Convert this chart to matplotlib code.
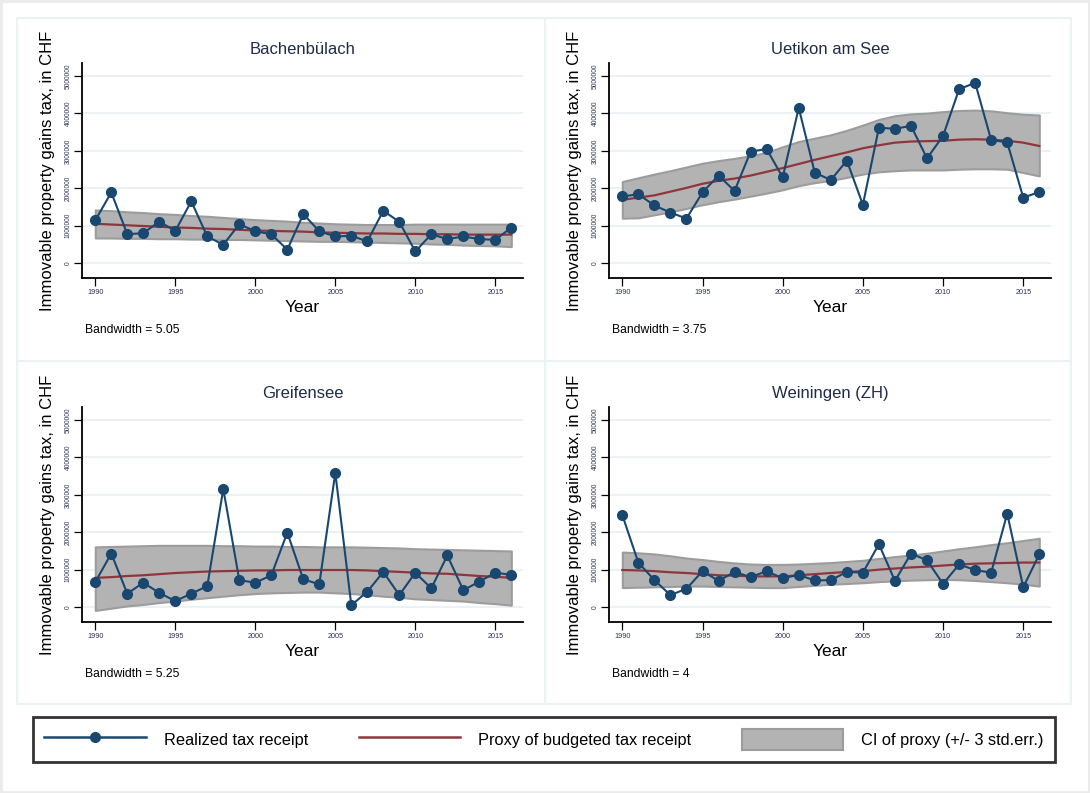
import numpy as np
import matplotlib
matplotlib.use("Agg")
import matplotlib.pyplot as plt
from matplotlib.lines import Line2D
from matplotlib.patches import Patch, Rectangle

plt.rcParams['font.family'] = ['Liberation Sans', 'DejaVu Sans']

years = list(range(1990, 2017))

# values in millions of CHF
bach_real = [1.14, 1.89, 0.77, 0.80, 1.11, 0.86, 1.65, 0.71, 0.49, 1.04, 0.85, 0.77, 0.36, 1.31,
             0.85, 0.71, 0.73, 0.58, 1.40, 1.10, 0.31, 0.77, 0.64, 0.71, 0.64, 0.62, 0.95]
bach_proxy = [1.05, 1.03, 1.01, 0.99, 0.97, 0.95, 0.94, 0.92, 0.91, 0.89, 0.87, 0.86, 0.85, 0.84,
              0.82, 0.81, 0.80, 0.79, 0.79, 0.78, 0.78, 0.77, 0.77, 0.76, 0.76, 0.76, 0.76]
bach_hi = [1.42, 1.40, 1.37, 1.35, 1.32, 1.30, 1.27, 1.25, 1.22, 1.19, 1.16, 1.14, 1.12, 1.09,
           1.07, 1.05, 1.04, 1.03, 1.03, 1.03, 1.04, 1.04, 1.04, 1.04, 1.04, 1.04, 1.04]
bach_lo = [0.67, 0.67, 0.66, 0.66, 0.65, 0.65, 0.64, 0.64, 0.63, 0.63, 0.62, 0.61, 0.60, 0.59,
           0.58, 0.58, 0.57, 0.56, 0.55, 0.54, 0.53, 0.51, 0.50, 0.48, 0.47, 0.46, 0.44]

uet_real = [1.78, 1.84, 1.54, 1.35, 1.19, 1.89, 2.34, 1.93, 2.98, 3.05, 2.29, 4.15, 2.42, 2.22,
            2.74, 1.56, 3.62, 3.59, 3.67, 2.80, 3.40, 4.65, 4.82, 3.29, 3.23, 1.75, 1.90]
uet_proxy = [1.69, 1.75, 1.81, 1.91, 2.01, 2.12, 2.20, 2.26, 2.34, 2.44, 2.54, 2.65, 2.76, 2.86,
             2.96, 3.07, 3.15, 3.22, 3.25, 3.26, 3.27, 3.30, 3.31, 3.30, 3.27, 3.22, 3.13]
uet_hi = [2.18, 2.28, 2.38, 2.47, 2.57, 2.67, 2.74, 2.80, 2.87, 2.96, 3.11, 3.25, 3.34, 3.43,
          3.55, 3.69, 3.84, 3.94, 3.99, 4.01, 4.05, 4.08, 4.09, 4.07, 4.02, 3.98, 3.96]
uet_lo = [1.20, 1.21, 1.29, 1.37, 1.46, 1.56, 1.64, 1.71, 1.79, 1.87, 1.96, 2.07, 2.15, 2.21,
          2.29, 2.38, 2.44, 2.47, 2.49, 2.49, 2.49, 2.51, 2.52, 2.52, 2.51, 2.42, 2.33]

gre_real = [0.67, 1.43, 0.36, 0.65, 0.38, 0.16, 0.36, 0.56, 3.16, 0.72, 0.65, 0.85, 1.99, 0.74,
            0.61, 3.59, 0.05, 0.41, 0.94, 0.32, 0.92, 0.50, 1.38, 0.45, 0.68, 0.92, 0.86]
gre_proxy = [0.78, 0.80, 0.83, 0.85, 0.88, 0.91, 0.93, 0.95, 0.96, 0.97, 0.98, 0.98, 0.99, 0.99,
             0.99, 0.99, 0.99, 0.98, 0.96, 0.94, 0.92, 0.90, 0.89, 0.86, 0.83, 0.81, 0.78]
gre_hi = [1.61, 1.62, 1.63, 1.64, 1.65, 1.65, 1.65, 1.65, 1.64, 1.64, 1.63, 1.63, 1.62, 1.62,
          1.61, 1.61, 1.61, 1.60, 1.59, 1.58, 1.56, 1.55, 1.54, 1.53, 1.52, 1.51, 1.50]
gre_lo = [-0.09, -0.03, 0.03, 0.07, 0.12, 0.16, 0.21, 0.25, 0.29, 0.33, 0.36, 0.38, 0.39, 0.40,
          0.40, 0.38, 0.36, 0.33, 0.29, 0.26, 0.22, 0.20, 0.18, 0.16, 0.12, 0.09, 0.05]

wei_real = [2.46, 1.19, 0.72, 0.32, 0.49, 0.96, 0.70, 0.94, 0.80, 0.96, 0.77, 0.86, 0.71, 0.72,
            0.94, 0.92, 1.68, 0.70, 1.43, 1.25, 0.62, 1.14, 0.99, 0.92, 2.50, 0.53, 1.41]
wei_proxy = [0.99, 0.98, 0.96, 0.93, 0.91, 0.88, 0.85, 0.84, 0.82, 0.82, 0.82, 0.85, 0.88, 0.91,
             0.94, 0.96, 1.00, 1.03, 1.06, 1.08, 1.11, 1.14, 1.16, 1.17, 1.18, 1.19, 1.19]
wei_hi = [1.47, 1.45, 1.42, 1.37, 1.31, 1.27, 1.22, 1.18, 1.15, 1.14, 1.14, 1.15, 1.17, 1.19,
          1.22, 1.25, 1.30, 1.35, 1.39, 1.44, 1.50, 1.56, 1.61, 1.67, 1.72, 1.78, 1.84]
wei_lo = [0.52, 0.53, 0.54, 0.55, 0.56, 0.56, 0.55, 0.54, 0.53, 0.52, 0.52, 0.55, 0.58, 0.61,
          0.63, 0.65, 0.68, 0.70, 0.72, 0.73, 0.74, 0.73, 0.71, 0.68, 0.65, 0.61, 0.56]

titles = ["Bachenbülach", "Uetikon am See", "Greifensee", "Weiningen (ZH)"]
bandwidths = ["Bandwidth = 5.05", "Bandwidth = 3.75", "Bandwidth = 5.25", "Bandwidth = 4"]
yticks = [0, 1000000, 2000000, 3000000, 4000000, 5000000]
xticks = [1990, 1995, 2000, 2005, 2010, 2015]
legend_labels = ["Realized tax receipt", "Proxy of budgeted tax receipt", "CI of proxy (+/- 3 std.err.)"]

series = [
    (bach_real, bach_proxy, bach_lo, bach_hi),
    (uet_real, uet_proxy, uet_lo, uet_hi),
    (gre_real, gre_proxy, gre_lo, gre_hi),
    (wei_real, wei_proxy, wei_lo, wei_hi),
]

NAVY = '#1a476f'
MAROON = '#90353b'
CIFILL = '#b3b3b3'
CIEDGE = '#9c9c9c'
GRID = '#eaf2f3'
TITLE_C = '#1e2c48'
TICK_C = '#2a3550'

W, H = 1090, 793
fig = plt.figure(figsize=(W / 100, H / 100), dpi=100)
fig.patch.set_facecolor('white')

def fx(px):
    return px / W

def fy(py):
    return 1 - py / H

# outer border and panel frames
fig.patches.append(Rectangle((0, 0), 1, 1, transform=fig.transFigure, fill=False,
                             edgecolor='#ebebeb', lw=3.5, zorder=0))
fig.patches.append(Rectangle((fx(17), fy(704)), fx(1071 - 17), (704 - 18) / H,
                             transform=fig.transFigure, fill=False, edgecolor=GRID, lw=1.5, zorder=0))
fig.add_artist(Line2D([fx(545), fx(545)], [fy(18), fy(704)], transform=fig.transFigure,
                      color=GRID, lw=1.5, zorder=0))
fig.add_artist(Line2D([fx(17), fx(1071)], [fy(361), fy(361)], transform=fig.transFigure,
                      color=GRID, lw=1.5, zorder=0))

rects = [(82, 523, 63, 278), (609, 1051, 63, 278), (82, 523, 407, 622), (609, 1051, 407, 622)]

for i, (l, r, t, b) in enumerate(rects):
    ax = fig.add_axes([fx(l), fy(b), (r - l) / W, (b - t) / H])
    real, proxy, lo, hi = series[i]
    real = np.array(real) * 1e6
    proxy = np.array(proxy) * 1e6
    lo = np.array(lo) * 1e6
    hi = np.array(hi) * 1e6
    for yv in yticks:
        ax.axhline(yv, color=GRID, lw=1.5, zorder=0)
    ax.fill_between(years, lo, hi, facecolor=CIFILL, edgecolor=CIEDGE, lw=1.5, zorder=2)
    ax.plot(years, proxy, color=MAROON, lw=1.6, zorder=3)
    ax.plot(years, real, color=NAVY, lw=1.5, marker='o', ms=7, mec=NAVY, mfc=NAVY, zorder=4)
    ax.set_xlim(1989.17, 2016.73)
    ax.set_ylim(-400000, 5350000)
    ax.set_xticks(xticks)
    ax.set_xticklabels([str(v) for v in xticks])
    ax.set_yticks(yticks)
    ax.set_yticklabels([str(v) for v in yticks], rotation=90, va='center')
    ax.tick_params(axis='x', length=5.5, width=0.9, labelsize=5.2, pad=2.5, colors='black',
                   labelcolor=TICK_C)
    ax.tick_params(axis='y', length=5.5, width=0.9, labelsize=4.8, pad=2, colors='black',
                   labelcolor=TICK_C)
    for s in ['top', 'right']:
        ax.spines[s].set_visible(False)
    for s in ['left', 'bottom']:
        ax.spines[s].set_linewidth(1.3)
        ax.spines[s].set_color('black')
    ax.set_facecolor('white')
    ax.set_ylabel("Immovable property gains tax, in CHF", fontsize=12, color='black')
    ax.yaxis.set_label_coords(-34 / (r - l), 0.5)
    ax.yaxis.label.set_va('center')
    ax.set_xlabel("Year", fontsize=12.5, color='black')
    ax.xaxis.set_label_coords(0.5, -29 / (b - t))
    ax.xaxis.label.set_va('center')
    ax.text(0.5, 1 + 14 / (b - t), titles[i], transform=ax.transAxes, ha='center', va='center',
            fontsize=12, color=TITLE_C)
    ax.text(3 / (r - l), -52 / (b - t), bandwidths[i], transform=ax.transAxes,
            ha='left', va='center', fontsize=8.7, color='black')

h1 = Line2D([], [], color=NAVY, lw=1.8, marker='o', ms=7, mec=NAVY, mfc=NAVY)
h2 = Line2D([], [], color=MAROON, lw=1.8)
h3 = Patch(facecolor=CIFILL, edgecolor=CIEDGE, lw=1.5)
leg = fig.legend([h1, h2, h3], legend_labels, loc='center',
                 bbox_to_anchor=(fx(33), fy(765), (1055 - 33) / W, (765 - 714) / H),
                 mode='expand', ncol=3, frameon=True, fancybox=False, edgecolor='black',
                 handlelength=6.2, handleheight=1.65, handletextpad=1.1, borderaxespad=0,
                 borderpad=0.7, prop={'size': 11.8})
leg.get_frame().set_linewidth(2)

fig.savefig("out.png", dpi=100, facecolor='white')
